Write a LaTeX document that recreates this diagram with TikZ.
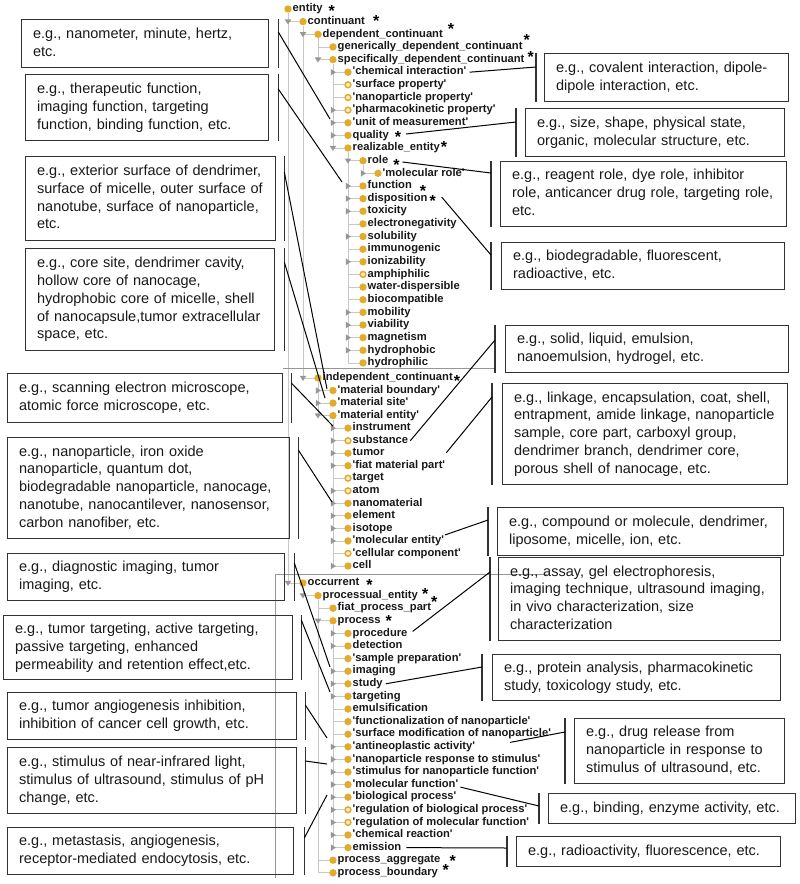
\documentclass[tikz,border=0pt]{standalone}
\usepackage{fontspec}
\setmainfont{Liberation Sans}
\newfontfamily\tf{Liberation Sans}[Ligatures=TeXOff]
\usetikzlibrary{calc}
\definecolor{gold}{RGB}{226,172,42}
\definecolor{ringc}{RGB}{250,238,205}
\definecolor{tline}{RGB}{200,200,200}
\definecolor{tric}{RGB}{150,150,150}
\definecolor{bord}{RGB}{50,50,50}
\definecolor{ink}{RGB}{25,25,25}
\definecolor{panec}{RGB}{150,150,150}
\tikzset{
 tdf/.style={circle, fill=gold, inner sep=0pt, minimum size=7.4pt},
 tdh/.style={circle, fill=ringc, draw=gold, line width=1.5pt, inner sep=0pt, minimum size=5.8pt},
 ttext/.style={font=\tf\fontsize{11.2}{13}\selectfont\bfseries, text=ink, inner sep=0pt, text height=7.6pt, text depth=2.2pt, anchor=west},
 astk/.style={font=\tf\fontsize{16}{16}\selectfont\bfseries, inner sep=0pt, anchor=base, text=black},
 tl/.style={draw=tline, line width=0.8pt},
 trif/.style={fill=tric},
 ebox/.style={draw=bord, line width=1.3pt, inner xsep=11.5pt, inner ysep=3pt, anchor=north west, align=left, font=\fontsize{14.5}{17.8}\selectfont, text=ink},
 brk/.style={draw=bord, line width=1.3pt},
 conn/.style={draw=black, line width=1pt},
 panel/.style={draw=panec, line width=1pt}
}
\newcommand\expR[2]{\fill[trif] ({#1-2.2},{#2-3.3}) -- ({#1+2.9},{#2}) -- ({#1-2.2},{#2+3.3}) -- cycle;}
\newcommand\expD[2]{\fill[trif] ({#1-3.3},{#2-2.2}) -- ({#1+3.3},{#2-2.2}) -- ({#1},{#2+2.9}) -- cycle;}
\newcommand\trow[6]{%
 \draw[tl] ({273+15*#2},#3) -- ({288+15*#2},#3);
 \node[#4] (#1d) at ({288+15*#2},#3) {};
 \node[ttext] (#1) at ({292.5+15*#2},#3) {#6};
 \if#5r\expR{273+15*#2}{#3}\fi
 \if#5d\expD{273+15*#2}{#3}\fi}
\newcommand\astx[4]{\node[astk] (#1) at ([xshift=#3pt,yshift=#4pt]#2.east) {*};}
\newcommand\lns[1]{\begin{tabular}{@{}l@{}}#1\end{tabular}}
\newcommand\lbr[3]{%
 \draw[brk] ([xshift=#2pt]#1.north east) -- ([xshift=#2pt]#1.south east);
 \coordinate (#1c) at ([xshift=#2pt,yshift=-#3pt]#1.north east);}
\newcommand\rbr[3]{%
 \draw[brk] ([xshift=-#2pt]#1.north west) -- ([xshift=-#2pt]#1.south west);
 \coordinate (#1c) at ([xshift=-#2pt,yshift=-#3pt]#1.north west);}

\begin{document}
\begin{tikzpicture}[x=1pt,y=-1pt]
\useasboundingbox[fill=white] (0,0) rectangle (800,884);

% ---------- tree guide lines ----------
\draw[tl] (288,13) -- (288,583);
\draw[tl] (303,26) -- (303,378);
\draw[tl] (318,38) -- (318,59.6);
\draw[tl] (333,64) -- (333,148);
\draw[tl] (348,152) -- (348,362.9);
\draw[tl] (363,165) -- (363,173.3);
\draw[tl] (318,382) -- (318,415.6);
\draw[tl] (333,420) -- (333,566);
\draw[tl] (303,587) -- (303,595.6);
\draw[tl] (318,600) -- (318,872.8);
\draw[tl] (333,625) -- (333,847.6);

% ---------- panel 1 ----------
\begin{scope}
\clip (0,0) rectangle (800,368);
\node[tdf] (entityd) at (288,9) {};
\node[ttext] (entity) at (292.5,9) {entity};
\trow{continuant}{1}{21.6}{tdf}{d}{continuant}
\trow{depc}{2}{34.3}{tdf}{d}{dependent\_continuant}
\trow{gdc}{3}{46.9}{tdf}{n}{generically\_dependent\_continuant}
\trow{sdc}{3}{59.6}{tdf}{d}{specifically\_dependent\_continuant}
\trow{chem}{4}{72.2}{tdf}{r}{'chemical interaction'}
\trow{surf}{4}{84.8}{tdh}{n}{'surface property'}
\trow{nprop}{4}{97.5}{tdh}{n}{'nanoparticle property'}
\trow{pk}{4}{110.1}{tdh}{r}{'pharmacokinetic property'}
\trow{unit}{4}{122.8}{tdf}{r}{'unit of measurement'}
\trow{quality}{4}{135.4}{tdf}{r}{quality}
\trow{real}{4}{148.0}{tdf}{d}{realizable\_entity}
\trow{role}{5}{160.7}{tdf}{d}{role}
\trow{molrole}{6}{173.3}{tdf}{r}{'molecular role'}
\trow{func}{5}{186.0}{tdf}{r}{function}
\trow{disp}{5}{198.6}{tdf}{r}{disposition}
\trow{tox}{5}{211.2}{tdf}{r}{toxicity}
\trow{elec}{5}{223.9}{tdf}{n}{electronegativity}
\trow{solu}{5}{236.5}{tdf}{r}{solubility}
\trow{immu}{5}{249.2}{tdf}{n}{immunogenic}
\trow{ioni}{5}{261.8}{tdf}{r}{ionizability}
\trow{amph}{5}{274.4}{tdh}{n}{amphiphilic}
\trow{wdis}{5}{287.1}{tdf}{n}{water-dispersible}
\trow{bioc}{5}{299.7}{tdf}{n}{biocompatible}
\trow{mobi}{5}{312.4}{tdf}{r}{mobility}
\trow{viab}{5}{325.0}{tdf}{r}{viability}
\trow{magn}{5}{337.6}{tdf}{r}{magnetism}
\trow{hphob}{5}{350.3}{tdf}{r}{hydrophobic}
\trow{hphil}{5}{362.9}{tdf}{n}{hydrophilic}
\end{scope}

% ---------- panel 2 ----------
\draw[panel] (283,368) -- (494,368);
\trow{indc}{2}{378.0}{tdf}{d}{independent\_continuant}
\trow{mb}{3}{390.5}{tdf}{r}{'material boundary'}
\trow{ms}{3}{403.1}{tdf}{r}{'material site'}
\trow{me}{3}{415.6}{tdf}{d}{'material entity'}
\trow{instr}{4}{428.1}{tdf}{r}{instrument}
\trow{subst}{4}{440.7}{tdh}{r}{substance}
\trow{tumor}{4}{453.2}{tdf}{r}{tumor}
\trow{fmp}{4}{465.7}{tdf}{r}{'fiat material part'}
\trow{target}{4}{478.2}{tdh}{n}{target}
\trow{atom}{4}{490.8}{tdh}{r}{atom}
\trow{nanom}{4}{503.3}{tdf}{r}{nanomaterial}
\trow{elem}{4}{515.8}{tdf}{r}{element}
\trow{isot}{4}{528.4}{tdf}{r}{isotope}
\trow{molent}{4}{540.9}{tdf}{r}{'molecular entity'}
\trow{cellc}{4}{553.4}{tdh}{n}{'cellular component'}
\trow{cell}{4}{566.0}{tdf}{r}{cell}

% ---------- panel 3 ----------
\draw[panel] (275,574) -- (547,574);
\draw[panel] (275,574) -- (275,878);
\begin{scope}
\clip (275,574) rectangle (558,884);
\trow{occ}{1}{583.0}{tdf}{d}{occurrent}
\trow{proce}{2}{595.6}{tdf}{d}{processual\_entity}
\trow{fpp}{3}{608.2}{tdf}{n}{fiat\_process\_part}
\trow{process}{3}{620.8}{tdf}{d}{process}
\trow{procd}{4}{633.4}{tdf}{r}{procedure}
\trow{detec}{4}{646.0}{tdf}{r}{detection}
\trow{sprep}{4}{658.6}{tdf}{n}{'sample preparation'}
\trow{imaging}{4}{671.2}{tdf}{r}{imaging}
\trow{study}{4}{683.8}{tdf}{r}{study}
\trow{targeting}{4}{696.4}{tdf}{r}{targeting}
\trow{emul}{4}{709.0}{tdf}{n}{emulsification}
\trow{funcn}{4}{721.6}{tdf}{n}{'functionalization of nanoparticle'}
\trow{surfm}{4}{734.2}{tdf}{n}{'surface modification of nanoparticle'}
\trow{antineo}{4}{746.8}{tdf}{r}{'antineoplastic activity'}
\trow{nrs}{4}{759.4}{tdf}{r}{'nanoparticle response to stimulus'}
\trow{stimf}{4}{772.0}{tdf}{r}{'stimulus for nanoparticle function'}
\trow{molfun}{4}{784.6}{tdf}{r}{'molecular function'}
\trow{biop}{4}{797.2}{tdf}{r}{'biological process'}
\trow{regb}{4}{809.8}{tdh}{r}{'regulation of biological process'}
\trow{regm}{4}{822.4}{tdh}{r}{'regulation of molecular function'}
\trow{chemr}{4}{835.0}{tdf}{r}{'chemical reaction'}
\trow{emis}{4}{847.6}{tdf}{r}{emission}
\trow{pagg}{3}{860.2}{tdf}{n}{process\_aggregate}
\trow{pbound}{3}{872.8}{tdf}{n}{process\_boundary}
\end{scope}

% ---------- stars ----------
\astx{s1}{entity}{9}{-7.3}
\astx{s2}{continuant}{11}{-4.7}
\astx{s3}{depc}{8}{0}
\astx{s4}{gdc}{4}{1.6}
\astx{s5}{sdc}{6}{-2.7}
\astx{sq}{quality}{9}{-6.9}
\astx{s7}{real}{4}{-4.3}
\astx{sr}{role}{8}{-9.6}
\astx{s9}{func}{11}{-10.3}
\astx{sd}{disp}{5}{-7.7}
\astx{s11}{indc}{4}{-8.3}
\astx{s12}{occ}{10}{-7.3}
\astx{s13}{proce}{7}{-3.7}
\astx{s14}{proce}{16}{-11.7}
\astx{s15}{process}{8}{-5.5}
\astx{s16}{pagg}{12}{-6.1}
\astx{s17}{pagg}{5}{-15.1}

% ---------- left boxes ----------
\node[ebox, text width=224pt, minimum height=48pt] (b1) at (21,19) {\lns{e.g., nanometer, minute, hertz,\\etc.}};
\node[ebox, text width=220pt, minimum height=66pt] (b2) at (25,74) {\lns{e.g., therapeutic function,\\imaging function, targeting\\function, binding function, etc.}};
\node[ebox, text width=227pt, minimum height=84pt] (b3) at (25,156) {\lns{e.g., exterior surface of dendrimer,\\surface of micelle, outer surface of\\nanotube, surface of nanoparticle,\\etc.}};
\node[ebox, text width=226pt, minimum height=102pt] (b4) at (25,248) {\lns{e.g., core site, dendrimer cavity,\\hollow core of nanocage,\\hydrophobic core of micelle, shell\\of nanocapsule,tumor extracellular\\space, etc.}};
\node[ebox, text width=252pt, minimum height=49pt] (b5) at (7,373) {\lns{e.g., scanning electron microscope,\\atomic force microscope, etc.}};
\node[ebox, text width=259pt, minimum height=101pt] (b6) at (7,437) {\lns{e.g., nanoparticle, iron oxide\\nanoparticle, quantum dot,\\biodegradable nanoparticle, nanocage,\\nanotube, nanocantilever, nanosensor,\\carbon nanofiber, etc.}};
\node[ebox, text width=254pt, minimum height=47pt] (b7) at (7,553) {\lns{e.g., diagnostic imaging, tumor\\imaging, etc.}};
\node[ebox, text width=266pt, minimum height=64pt] (b8) at (3,615) {\lns{e.g., tumor targeting, active targeting,\\passive targeting, enhanced\\permeability and retention effect,etc.}};
\node[ebox, text width=266pt, minimum height=47pt] (b9) at (7,692) {\lns{e.g., tumor angiogenesis inhibition,\\inhibition of cancer cell growth, etc.}};
\node[ebox, text width=266pt, minimum height=66pt] (b10) at (7,747) {\lns{e.g., stimulus of near-infrared light,\\stimulus of ultrasound, stimulus of pH\\change, etc.}};
\node[ebox, text width=263pt, minimum height=47pt] (b11) at (7,827) {\lns{e.g., metastasis, angiogenesis,\\receptor-mediated endocytosis, etc.}};

% ---------- right boxes ----------
\node[ebox, text width=221pt, minimum height=48pt] (r1) at (544,53) {\lns{e.g., covalent interaction, dipole-\\dipole interaction, etc.}};
\node[ebox, text width=236pt, minimum height=48pt] (r2) at (525,108) {\lns{e.g., size, shape, physical state,\\organic, molecular structure, etc.}};
\node[ebox, text width=263pt, minimum height=65pt] (r3) at (500,161) {\lns{e.g., reagent role, dye role, inhibitor\\role, anticancer drug role, targeting role,\\etc.}};
\node[ebox, text width=260pt, minimum height=47pt] (r4) at (501,242) {\lns{e.g., biodegradable, fluorescent,\\radioactive, etc.}};
\node[ebox, text width=260pt, minimum height=47pt] (r5) at (505,325) {\lns{e.g., solid, liquid, emulsion,\\nanoemulsion, hydrogel, etc.}};
\node[ebox, text width=262pt, minimum height=101pt] (r6) at (502,383) {\lns{e.g., linkage, encapsulation, coat, shell,\\entrapment, amide linkage, nanoparticle\\sample, core part, carboxyl group,\\dendrimer branch, dendrimer core,\\porous shell of nanocage, etc.}};
\node[ebox, text width=263pt, minimum height=48pt] (r7) at (497,507) {\lns{e.g., compound or molecule, dendrimer,\\liposome, micelle, ion, etc.}};
\node[ebox, text width=259pt, minimum height=83pt] (r8) at (498,557) {\lns{e.g., assay, gel electrophoresis,\\imaging technique, ultrasound imaging,\\in vivo characterization, size\\characterization}};
\node[ebox, text width=265pt, minimum height=46pt] (r9) at (492,654) {\lns{e.g., protein analysis, pharmacokinetic\\study, toxicology study, etc.}};
\node[ebox, text width=187pt, minimum height=65pt] (r10) at (574,718) {\lns{e.g., drug release from\\nanoparticle in response to\\stimulus of ultrasound, etc.}};
\node[ebox, text width=224pt, minimum height=30pt] (r11) at (548,793) {\lns{e.g., binding, enzyme activity, etc.}};
\node[ebox, text width=241pt, minimum height=30pt] (r12) at (516,836) {\lns{e.g., radioactivity, fluorescence, etc.}};

% ---------- brackets ----------
\lbr{b1}{9}{13}
\lbr{b2}{9}{15}
\lbr{b3}{8}{16}
\lbr{b4}{9}{14}
\lbr{b5}{8}{10}
\lbr{b6}{8}{13}
\lbr{b7}{9}{10}
\lbr{b8}{8}{5}
\lbr{b9}{8}{13}
\lbr{b10}{8}{14}
\lbr{b11}{10}{11}
\rbr{r1}{8}{14}
\rbr{r2}{9}{14}
\rbr{r3}{9}{12}
\rbr{r4}{10}{13}
\rbr{r5}{10}{15}
\rbr{r6}{10}{14}
\rbr{r7}{9}{13}
\rbr{r8}{8}{15}
\rbr{r9}{10}{13}
\rbr{r10}{9}{14}
\rbr{r11}{9}{13}
\rbr{r12}{9}{12}

% ---------- connectors ----------
\draw[conn] (b1c) -- ([xshift=-22.5pt,yshift=3.8pt]unit.west);
\draw[conn] (b2c) -- ([xshift=-25.5pt,yshift=4pt]func.west);
\draw[conn] (b3c) -- ([xshift=-10.5pt,yshift=1.5pt]mb.west);
\draw[conn] (b4c) -- ([xshift=-12.5pt,yshift=5pt]ms.west);
\draw[conn] (b5c) -- ([xshift=-19.5pt,yshift=2pt]instr.west);
\draw[conn] (b6c) -- ([xshift=-20.5pt,yshift=1.3pt]nanom.west);
\draw[conn] (b7c) -- ([xshift=-22.5pt,yshift=4.2pt]imaging.west);
\draw[conn] (b8c) -- ([xshift=-22.5pt,yshift=4.4pt]targeting.west);
\draw[conn] (b9c) -- ([xshift=-25.5pt,yshift=8.8pt]antineo.west);
\draw[conn] (b10c) -- ([xshift=-25.5pt,yshift=8pt]stimf.west);
\draw[conn] (b11c) -- ([xshift=-25.5pt,yshift=2.2pt]biop.west);

\draw[conn] ([xshift=3pt]chem.east) -- (r1c);
\draw[conn] ([xshift=8pt,yshift=8.3pt]sq.base) -- (r2c);
\draw[conn] ([xshift=6pt,yshift=8.3pt]sr.base) -- (r3c);
\draw[conn] ([xshift=9pt,yshift=9.3pt]sd.base) -- (r4c);
\draw[conn] ([xshift=2pt]subst.east) -- (r5c);
\draw[conn] ([xshift=1pt,yshift=13pt]fmp.east) -- (r6c);
\draw[conn] ([xshift=1pt,yshift=6pt]molent.east) -- (r7c);
\draw[conn] ([xshift=5pt,yshift=2pt]procd.east) -- (r8c);
\draw[conn] ([xshift=3pt]study.east) -- (r9c);
\draw[conn] ([xshift=157.5pt,yshift=17pt]nrs.west) -- (r10c);
\draw[conn] ([xshift=2pt,yshift=-2.5pt]molfun.east) -- (r11c);
\draw[conn] ([xshift=5pt]emis.east) -- (r12c);
\end{tikzpicture}
\end{document}
